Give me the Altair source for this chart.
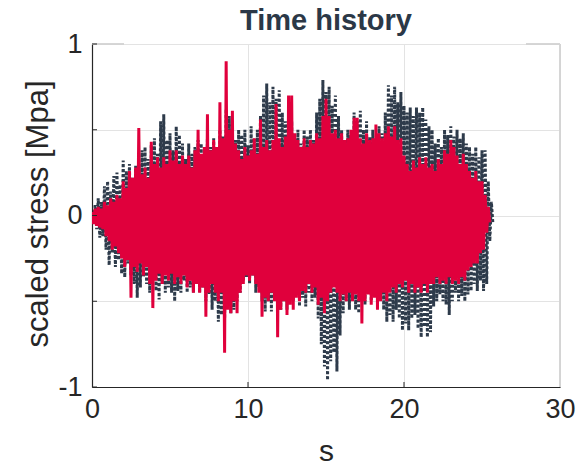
import altair as alt
import pandas as pd
import numpy as np

# sample step of the recorded signals [s]
dt = 0.1

# dark (dotted) series: positive peaks at t = 0, 0.2, ... and negative troughs at t = 0.1, 0.3, ...
dark_pos = [0.02, 0.06, 0.10, 0.08, 0.17, 0.20, 0.14, 0.23, 0.25, 0.18,
            0.32, 0.26, 0.30, 0.22, 0.29, 0.30, 0.38, 0.40, 0.33, 0.41,
            0.45, 0.36, 0.55, 0.59, 0.44, 0.48, 0.38, 0.52, 0.47, 0.42,
            0.33, 0.42, 0.36, 0.40, 0.44, 0.42, 0.35, 0.45, 0.40, 0.45,
            0.38, 0.50, 0.46, 0.62, 0.58, 0.55, 0.44, 0.50, 0.47, 0.50,
            0.41, 0.52, 0.45, 0.50, 0.58, 0.70, 0.77, 0.66, 0.75, 0.68,
            0.73, 0.60, 0.55, 0.48, 0.55, 0.45, 0.50, 0.42, 0.50, 0.46,
            0.50, 0.44, 0.60, 0.68, 0.79, 0.72, 0.75, 0.64, 0.70, 0.58,
            0.50, 0.44, 0.50, 0.47, 0.60, 0.55, 0.61, 0.50, 0.55, 0.46,
            0.50, 0.44, 0.52, 0.48, 0.60, 0.76, 0.70, 0.75, 0.66, 0.72,
            0.64, 0.60, 0.63, 0.58, 0.63, 0.60, 0.63, 0.56, 0.52, 0.50,
            0.42, 0.45, 0.40, 0.50, 0.47, 0.52, 0.46, 0.50, 0.45, 0.48,
            0.42, 0.40, 0.36, 0.40, 0.34, 0.38, 0.38, 0.20, 0.08]
dark_neg = [0.04, 0.08, 0.13, 0.12, 0.20, 0.29, 0.22, 0.30, 0.26, 0.34,
            0.36, 0.28, 0.35, 0.40, 0.48, 0.42, 0.36, 0.40, 0.45, 0.38,
            0.44, 0.49, 0.40, 0.45, 0.42, 0.45, 0.50, 0.44, 0.45, 0.38,
            0.45, 0.42, 0.45, 0.40, 0.45, 0.42, 0.50, 0.46, 0.55, 0.50,
            0.62, 0.58, 0.60, 0.52, 0.57, 0.55, 0.50, 0.45, 0.38, 0.36,
            0.40, 0.35, 0.45, 0.42, 0.50, 0.56, 0.50, 0.56, 0.48, 0.55,
            0.55, 0.50, 0.55, 0.48, 0.50, 0.46, 0.53, 0.48, 0.53, 0.45,
            0.50, 0.48, 0.60, 0.75, 0.88, 0.96, 0.85, 0.80, 0.91, 0.70,
            0.57, 0.50, 0.55, 0.48, 0.55, 0.57, 0.50, 0.52, 0.45, 0.50,
            0.46, 0.50, 0.48, 0.55, 0.62, 0.58, 0.62, 0.55, 0.60, 0.67,
            0.63, 0.67, 0.60, 0.58, 0.66, 0.71, 0.65, 0.71, 0.68, 0.53,
            0.50, 0.46, 0.50, 0.52, 0.58, 0.50, 0.45, 0.50, 0.47, 0.50,
            0.46, 0.44, 0.40, 0.44, 0.38, 0.44, 0.40, 0.15, 0.05]

# red (solid) series
red_pos = [0.02, 0.04, 0.05, 0.04, 0.08, 0.06, 0.10, 0.08, 0.12, 0.10,
           0.20, 0.16, 0.26, 0.22, 0.28, 0.51, 0.24, 0.28, 0.22, 0.43,
           0.30, 0.34, 0.28, 0.34, 0.30, 0.38, 0.32, 0.38, 0.30, 0.35,
           0.30, 0.35, 0.28, 0.38, 0.50, 0.36, 0.40, 0.59, 0.38, 0.44,
           0.40, 0.66, 0.45, 0.90, 0.50, 0.61, 0.42, 0.38, 0.33, 0.40,
           0.35, 0.38, 0.45, 0.36, 0.56, 0.40, 0.44, 0.38, 0.44, 0.65,
           0.45, 0.40, 0.46, 0.70, 0.70, 0.48, 0.44, 0.40, 0.45, 0.40,
           0.44, 0.42, 0.48, 0.45, 0.58, 0.68, 0.58, 0.48, 0.50, 0.45,
           0.48, 0.44, 0.45, 0.50, 0.57, 0.57, 0.45, 0.42, 0.48, 0.44,
           0.45, 0.53, 0.48, 0.45, 0.48, 0.52, 0.46, 0.52, 0.44, 0.45,
           0.35, 0.30, 0.26, 0.32, 0.28, 0.34, 0.30, 0.34, 0.28, 0.30,
           0.26, 0.33, 0.30, 0.38, 0.36, 0.44, 0.40, 0.35, 0.30, 0.36,
           0.30, 0.26, 0.22, 0.26, 0.20, 0.20, 0.12, 0.05]
red_neg = [0.05, 0.06, 0.07, 0.08, 0.12, 0.15, 0.20, 0.18, 0.22, 0.25,
           0.30, 0.26, 0.48, 0.30, 0.33, 0.28, 0.35, 0.30, 0.40, 0.54,
           0.38, 0.34, 0.40, 0.35, 0.38, 0.34, 0.40, 0.36, 0.40, 0.35,
           0.42, 0.38, 0.45, 0.40, 0.45, 0.42, 0.59, 0.45, 0.40, 0.45,
           0.50, 0.45, 0.80, 0.55, 0.57, 0.50, 0.57, 0.45, 0.40, 0.35,
           0.38, 0.35, 0.40, 0.45, 0.59, 0.48, 0.50, 0.45, 0.50, 0.71,
           0.55, 0.50, 0.58, 0.52, 0.55, 0.48, 0.50, 0.44, 0.45, 0.40,
           0.45, 0.42, 0.52, 0.48, 0.57, 0.50, 0.45, 0.42, 0.45, 0.50,
           0.46, 0.50, 0.45, 0.50, 0.46, 0.50, 0.63, 0.50, 0.46, 0.52,
           0.48, 0.55, 0.50, 0.45, 0.50, 0.45, 0.42, 0.45, 0.40, 0.42,
           0.38, 0.45, 0.40, 0.45, 0.42, 0.45, 0.40, 0.45, 0.40, 0.40,
           0.36, 0.40, 0.38, 0.40, 0.36, 0.40, 0.38, 0.40, 0.36, 0.38,
           0.32, 0.30, 0.28, 0.28, 0.22, 0.20, 0.10, 0.04]

x_ticks = [0, 10, 20, 30]
y_ticks = [-1, -0.5, 0, 0.5, 1]


def interleave(pos, neg):
    vals = []
    for p, n in zip(pos, neg):
        vals.append(p)
        vals.append(-n)
    return vals


dark_vals = interleave(dark_pos, dark_neg)
red_vals = interleave(red_pos, red_neg)
dark_df = pd.DataFrame({"t": np.arange(len(dark_vals)) * dt, "v": dark_vals})
red_df = pd.DataFrame({"t": np.arange(len(red_vals)) * dt, "v": red_vals})

W, H = 468, 343
FONT = "Liberation Sans"
AX = "#262626"
GRID = "#e3e3e3"

xs = alt.Scale(domain=[0, 30], nice=False)
ys = alt.Scale(domain=[-1, 1], nice=False)

x_axis = alt.Axis(values=x_ticks, grid=True, gridColor=GRID, domainColor=AX, domainWidth=1.2,
                  ticks=False, tickSize=0, labelFont=FONT, labelFontSize=27, labelColor=AX,
                  labelPadding=9, labelFlush=False, labelOverlap=False,
                  title="s", titleFont=FONT, titleFontSize=30,
                  titleFontWeight="normal", titleColor=AX, titleY=73, titleBaseline="alphabetic")
y_axis = alt.Axis(values=y_ticks, grid=True, gridColor=GRID, domainColor=AX, domainWidth=1.2,
                  ticks=False, tickSize=0, labelFont=FONT, labelFontSize=27, labelColor=AX,
                  labelPadding=10, labelBaseline="middle", labelFlush=False, labelOverlap=False,
                  labelExpr="datum.value == 1 ? '1' : datum.value == 0 ? '0' : datum.value == -1 ? '-1' : ''",
                  title="scaled stress [Mpa]", titleFont=FONT, titleFontSize=31,
                  titleFontWeight="normal", titleColor=AX, titleAngle=270, titleX=-54,
                  titleY=H / 2 - 2, titleAlign="center", titleBaseline="middle")

dark = alt.Chart(dark_df).mark_line(color="#2e3b4b", strokeWidth=3, strokeDash=[3, 2],
                                    strokeCap="butt", clip=True).encode(
    x=alt.X("t:Q", scale=xs, axis=x_axis),
    y=alt.Y("v:Q", scale=ys, axis=y_axis),
)
red = alt.Chart(red_df).mark_line(color="#e0003c", strokeWidth=3, clip=True).encode(
    x=alt.X("t:Q", scale=xs),
    y=alt.Y("v:Q", scale=ys),
)

ytick_df = pd.DataFrame({"v": y_ticks})
yticks = alt.Chart(ytick_df).mark_rule(color=AX, strokeWidth=1).encode(
    y=alt.Y("v:Q", scale=ys), x=alt.value(0), x2=alt.value(5))
xtick_df = pd.DataFrame({"t": x_ticks[1:3]})
xticks = alt.Chart(xtick_df).mark_rule(color=AX, strokeWidth=1).encode(
    x=alt.X("t:Q", scale=xs), y=alt.value(H), y2=alt.value(H - 5))

right_border = alt.Chart(ytick_df).mark_rule(color="#d4d4d4", strokeWidth=1).encode(
    x=alt.value(W), y=alt.value(0), y2=alt.value(H))
top_left = alt.Chart(ytick_df).mark_rule(color="#d4d4d4", strokeWidth=1).encode(
    x=alt.value(0), x2=alt.value(32), y=alt.value(0))
top_right = alt.Chart(ytick_df).mark_rule(color="#d4d4d4", strokeWidth=1).encode(
    x=alt.value(434), x2=alt.value(W), y=alt.value(0))

chart = alt.layer(right_border, top_left, top_right, dark, red, yticks, xticks).properties(
    width=W, height=H,
    autosize=alt.AutoSizeParams(type="none"),
    padding={"left": 92, "top": 44, "right": 18, "bottom": 79},
    title=alt.TitleParams("Time history", font=FONT, fontSize=29, fontWeight="bold",
                          color="#2b3847", anchor="middle", offset=10, dy=16),
).configure_view(stroke=None).configure(background="white")

chart.save("out.html", embed_options={"renderer": "svg", "actions": False})
